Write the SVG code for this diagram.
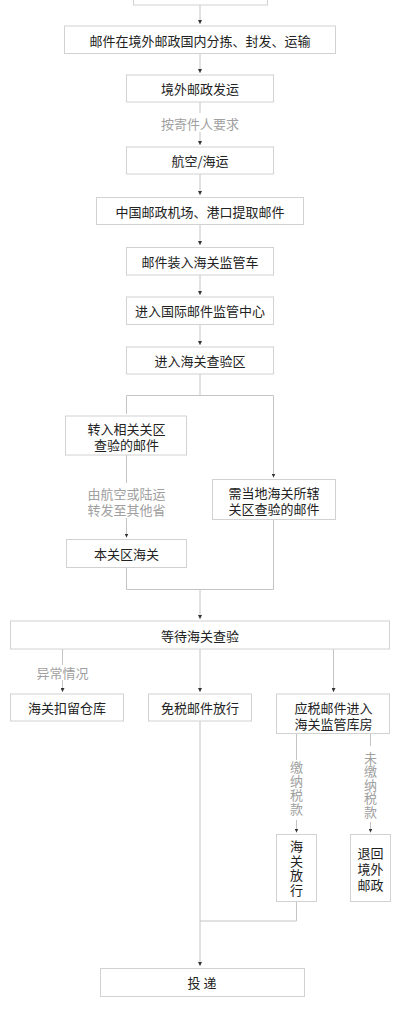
<svg xmlns="http://www.w3.org/2000/svg" width="400" height="1015" viewBox="0 0 400 1015">
<style>
.b{fill:#fff;stroke:#d2d2d2;stroke-width:1}
.t{font-family:"Noto Sans CJK SC","Noto Sans",sans-serif;font-size:13px;fill:#222;text-anchor:middle;dominant-baseline:central}
.l{font-family:"Noto Sans CJK SC","Noto Sans",sans-serif;font-size:13px;fill:#a0a0a0;text-anchor:middle;dominant-baseline:central}
.v{writing-mode:vertical-rl}
.c{fill:none;stroke:#c4c4c4;stroke-width:1}
</style>
<defs>
<marker id="a" viewBox="0 0 5 5" refX="5" refY="2.5" markerWidth="4" markerHeight="4" markerUnits="userSpaceOnUse" orient="auto"><path d="M0,0L5,2.5L0,5z" fill="#333"/></marker>
</defs>
<rect width="400" height="1015" fill="#fff"/>
<g id="connectors">
<path class="c" d="M200,5V24" marker-end="url(#a)"/>
<path class="c" d="M200,53.5V73" marker-end="url(#a)"/>
<path class="c" d="M200,102V113"/>
<path class="c" d="M200,132V145" marker-end="url(#a)"/>
<path class="c" d="M200,174V195" marker-end="url(#a)"/>
<path class="c" d="M200,224.5V245" marker-end="url(#a)"/>
<path class="c" d="M200,275V295" marker-end="url(#a)"/>
<path class="c" d="M200,324.5V345" marker-end="url(#a)"/>
<path class="c" d="M200,374V395.5"/>
<path class="c" d="M126.5,414V395.5H273.5V477.5" marker-end="url(#a)"/>
<path class="c" d="M126.5,455V483"/>
<path class="c" d="M126.5,518V537.5" marker-end="url(#a)"/>
<path class="c" d="M126.5,567.5V589.5H273.5V519.5"/>
<path class="c" d="M200,589.5V619" marker-end="url(#a)"/>
<path class="c" d="M62.5,649V665"/>
<path class="c" d="M62.5,680V692" marker-end="url(#a)"/>
<path class="c" d="M200,649V692" marker-end="url(#a)"/>
<path class="c" d="M333.5,649V692" marker-end="url(#a)"/>
<path class="c" d="M296.5,733.5V760"/>
<path class="c" d="M296.5,820V832.5" marker-end="url(#a)"/>
<path class="c" d="M370.5,733.5V746"/>
<path class="c" d="M370.5,822V832.5" marker-end="url(#a)"/>
<path class="c" d="M200,720.5V966" marker-end="url(#a)"/>
<path class="c" d="M296.5,901.5V921H200"/>
</g>
<g id="n0"><rect class="b" x="133.5" y="-25" width="134" height="30"/></g>
<g id="n1"><rect class="b" x="64.5" y="26" width="271" height="27.5"/><text class="t" x="200" y="40">邮件在境外邮政国内分拣、封发、运输</text></g>
<g id="n2"><rect class="b" x="126.5" y="75" width="147" height="27"/><text class="t" x="200" y="88.5">境外邮政发运</text></g>
<g id="lb1"><text class="l" x="200" y="123">按寄件人要求</text></g>
<g id="n3"><rect class="b" x="126.5" y="147" width="147" height="27"/><text class="t" x="200" y="160.5">航空/海运</text></g>
<g id="n4"><rect class="b" x="96.5" y="197.5" width="207" height="27"/><text class="t" x="200" y="211">中国邮政机场、港口提取邮件</text></g>
<g id="n5"><rect class="b" x="126.5" y="247.5" width="147" height="27.5"/><text class="t" x="200" y="261">邮件装入海关监管车</text></g>
<g id="n6"><rect class="b" x="126.5" y="297" width="147" height="27.5"/><text class="t" x="200" y="310.5">进入国际邮件监管中心</text></g>
<g id="n7"><rect class="b" x="126.5" y="347" width="147" height="27"/><text class="t" x="200" y="360.5">进入海关查验区</text></g>
<g id="n8"><rect class="b" x="65.5" y="416" width="121" height="39"/><text class="t"><tspan x="126.5" y="427.5">转入相关关区</tspan><tspan x="126.5" y="443.5">查验的邮件</tspan></text></g>
<g id="lb2"><text class="l"><tspan x="126.5" y="493">由航空或陆运</tspan><tspan x="126.5" y="509">转发至其他省</tspan></text></g>
<g id="n9"><rect class="b" x="66.5" y="539.5" width="120" height="28"/><text class="t" x="126.5" y="553.5">本关区海关</text></g>
<g id="n10"><rect class="b" x="212.5" y="479.5" width="123" height="40"/><text class="t"><tspan x="274" y="492">需当地海关所辖</tspan><tspan x="274" y="508">关区查验的邮件</tspan></text></g>
<g id="n11"><rect class="b" x="10.5" y="621" width="379" height="28"/><text class="t" x="200" y="635">等待海关查验</text></g>
<g id="lb3"><text class="l" x="62.5" y="672.5">异常情况</text></g>
<g id="n12"><rect class="b" x="10.5" y="694" width="113" height="27"/><text class="t" x="67" y="707.5">海关扣留仓库</text></g>
<g id="n13"><rect class="b" x="148.5" y="694" width="103" height="27"/><text class="t" x="200" y="707.5">免税邮件放行</text></g>
<g id="n14"><rect class="b" x="276.5" y="694" width="113" height="39.5"/><text class="t"><tspan x="333.5" y="706.5">应税邮件进入</tspan><tspan x="333.5" y="722.5">海关监管库房</tspan></text></g>
<g id="lb4"><text class="l v" x="296.5" y="789" style="letter-spacing:1px">缴纳税款</text></g>
<g id="lb5"><text class="l v" x="370.5" y="785" style="letter-spacing:0.5px">未缴纳税款</text></g>
<g id="n15"><rect class="b" x="276.5" y="834.5" width="40" height="67"/><text class="t v" x="296.5" y="869" style="letter-spacing:1.5px">海关放行</text></g>
<g id="n16"><rect class="b" x="350.5" y="834.5" width="40" height="67"/><text class="t"><tspan x="370.5" y="852">退回</tspan><tspan x="370.5" y="868">境外</tspan><tspan x="370.5" y="884">邮政</tspan></text></g>
<g id="n17"><rect class="b" x="100.5" y="968.5" width="204" height="28"/><text class="t" x="202" y="982.5">投 递</text></g>
</svg>
